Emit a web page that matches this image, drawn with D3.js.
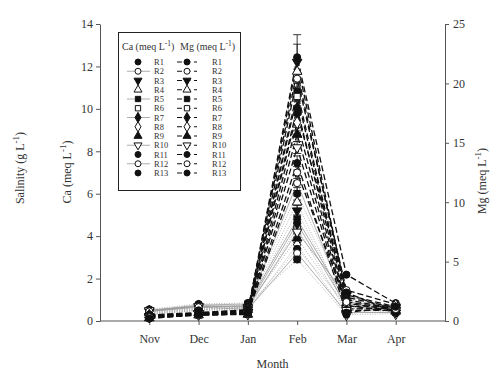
<!DOCTYPE html>
<html>
<head>
<meta charset="utf-8">
<script src="https://cdn.jsdelivr.net/npm/d3@7"></script>
<style>
  html, body { margin: 0; padding: 0; background: #fff; }
  svg { display: block; font-family: "Liberation Serif", "DejaVu Serif", serif; }
</style>
</head>
<body>
<svg id="chart" width="490" height="374"></svg>
<script>
// Months and sampling sites
const months = ["Nov", "Dec", "Jan", "Feb", "Mar", "Apr"];
const sites = ["R1","R2","R3","R4","R5","R6","R7","R8","R9","R10","R11","R12","R13"];

// Ca (meq L-1) per month, one value per site R1..R13
const caNov = [0.55,0.50,0.45,0.40,0.50,0.35,0.45,0.30,0.40,0.50,0.35,0.45,0.30];
const caDec = [0.80,0.70,0.65,0.60,0.75,0.55,0.70,0.50,0.60,0.70,0.55,0.65,0.50];
const caJan = [0.85,0.70,0.60,0.65,0.80,0.55,0.70,0.50,0.75,0.65,0.60,0.55,0.80];
const caFeb = [6.0,6.5,5.2,5.6,4.8,4.4,4.6,3.6,3.9,4.2,3.4,3.2,2.9];
const caMar = [1.0,0.8,0.6,0.5,0.9,0.4,0.7,0.3,0.6,1.2,0.8,0.4,0.3];
const caApr = [0.70,0.60,0.50,0.45,0.65,0.40,0.55,0.35,0.50,0.60,0.45,0.40,0.70];
const caErrFeb = [0.30,0.35,0.25,0.30,0.20,0.25,0.20,0.20,0.20,0.25,0.20,0.20,0.15];

// Mg (meq L-1) per month, one value per site R1..R13
const mgNov = [0.45,0.35,0.40,0.50,0.30,0.40,0.45,0.35,0.25,0.40,0.50,0.30,0.20];
const mgDec = [0.65,0.55,0.60,0.70,0.50,0.60,0.65,0.55,0.50,0.60,0.70,0.50,0.55];
const mgJan = [0.85,0.65,0.75,0.95,0.60,0.70,0.80,0.60,0.55,0.70,0.90,0.60,0.65];
const mgFeb = [22.2,20.4,21.8,21.0,19.3,18.9,17.9,16.7,15.7,14.6,17.5,12.5,13.3];
const mgMar = [3.9,2.6,2.2,2.0,1.8,1.5,1.3,1.2,1.0,0.9,2.4,1.6,0.7];
const mgApr = [1.5,1.4,1.2,1.1,1.0,0.9,0.8,1.3,1.1,0.9,0.7,1.0,1.2];
const mgErrFeb = [1.9,0.8,1.5,0.9,0.7,0.8,0.6,0.7,0.6,0.5,0.6,0.5,0.6];

// Tick values
const caTicks = [0, 2, 4, 6, 8, 10, 12, 14];
const mgTicks = [0, 5, 10, 15, 20, 25];

// Marker shapes per site (shape, filled)
const markerStyles = [
  ["circle", true], ["circle", false], ["triDown", true], ["triUp", false],
  ["square", true], ["square", false], ["diamond", true], ["diamond", false],
  ["triUp", true], ["triDown", false], ["circle", true], ["circle", false],
  ["circle", true]
];
// Ca line styles per site
const caLineSolid = [false,true,false,false,true,false,true,false,false,true,false,true,false];

const svg = d3.select("#chart");
const plotLeft = 100, plotRight = 445, plotTop = 24, plotBottom = 321;

const x = d3.scaleLinear().domain([0, 7]).range([plotLeft, plotRight]);
const yCa = d3.scaleLinear().domain([0, 14]).range([plotBottom, plotTop]);
const yMg = d3.scaleLinear().domain([0, 25]).range([plotBottom, plotTop]);

const caByMonth = [caNov, caDec, caJan, caFeb, caMar, caApr];
const mgByMonth = [mgNov, mgDec, mgJan, mgFeb, mgMar, mgApr];

const caSeries = sites.map((s, i) => caByMonth.map((arr, m) => ({ m: m + 1, v: arr[i] })));
const mgSeries = sites.map((s, i) => mgByMonth.map((arr, m) => ({ m: m + 1, v: arr[i] })));

function symbolPath(shape, size) {
  if (shape === "circle") return d3.symbol(d3.symbolCircle, size)();
  if (shape === "square") return d3.symbol(d3.symbolSquare, size)();
  if (shape === "diamond") return d3.symbol(d3.symbolDiamond, size * 1.1)();
  return d3.symbol(d3.symbolTriangle, size)();
}
function drawMarker(g, cx, cy, idx, size) {
  const [shape, filled] = markerStyles[idx];
  g.append("path")
    .attr("d", symbolPath(shape, size))
    .attr("transform", `translate(${cx},${cy})` + (shape === "triDown" ? " rotate(180)" : ""))
    .attr("fill", filled ? "#111" : "#fff")
    .attr("stroke", "#111")
    .attr("stroke-width", 1);
}

const textColor = "#333";
const axisColor = "#555";

// Axes
const axL = svg.append("g").attr("transform", `translate(${plotLeft},0)`)
  .call(d3.axisLeft(yCa).tickValues(caTicks).tickSize(4).tickSizeOuter(0).tickPadding(3));
const axR = svg.append("g").attr("transform", `translate(${plotRight},0)`)
  .call(d3.axisRight(yMg).tickValues(mgTicks).tickSize(4).tickSizeOuter(0).tickPadding(4));
const axB = svg.append("g").attr("transform", `translate(0,${plotBottom})`)
  .call(d3.axisBottom(x).tickValues([1,2,3,4,5,6]).tickFormat(d => months[d - 1])
    .tickSize(4).tickSizeOuter(0).tickPadding(9));
axB.select(".domain").attr("d", `M${plotLeft},0H${plotRight}`);
[axL, axR, axB].forEach(a => {
  a.selectAll(".domain, .tick line").attr("stroke", axisColor).attr("stroke-width", 1);
  a.selectAll("text").attr("fill", textColor).attr("font-size", 12)
    .attr("font-family", "Liberation Serif, serif");
});

// Lines
const lineCa = d3.line().x(d => x(d.m)).y(d => yCa(d.v));
const lineMg = d3.line().x(d => x(d.m)).y(d => yMg(d.v));

const plot = svg.append("g");
caSeries.forEach((s, i) => {
  plot.append("path").attr("d", lineCa(s)).attr("fill", "none")
    .attr("stroke", caLineSolid[i] ? "#999" : "#aaa")
    .attr("stroke-width", caLineSolid[i] ? 0.8 : 0.9)
    .attr("stroke-dasharray", caLineSolid[i] ? null : "1,1.5");
});
mgSeries.forEach((s, i) => {
  plot.append("path").attr("d", lineMg(s)).attr("fill", "none")
    .attr("stroke", "#111").attr("stroke-width", 1.3)
    .attr("stroke-dasharray", "6,3");
});

// Error bars at Feb
const eb = svg.append("g").attr("stroke", "#222").attr("stroke-width", 0.9);
function errBar(cx, yv, e, ys) {
  eb.append("line").attr("x1", cx).attr("x2", cx).attr("y1", ys(yv - e)).attr("y2", ys(yv + e));
  eb.append("line").attr("x1", cx - 4).attr("x2", cx + 4).attr("y1", ys(yv + e)).attr("y2", ys(yv + e));
  eb.append("line").attr("x1", cx - 4).attr("x2", cx + 4).attr("y1", ys(yv - e)).attr("y2", ys(yv - e));
}
caFeb.forEach((v, i) => errBar(x(4), v, caErrFeb[i], yCa));
mgFeb.forEach((v, i) => errBar(x(4), v, mgErrFeb[i], yMg));

// Markers
const mk = svg.append("g");
caSeries.forEach((s, i) => s.forEach(d => drawMarker(mk, x(d.m), yCa(d.v), i, 40)));
mgSeries.forEach((s, i) => s.forEach(d => drawMarker(mk, x(d.m), yMg(d.v), i, 40)));

// Axis titles
svg.append("text").attr("transform", `translate(${(plotLeft + plotRight) / 2},368)`)
  .attr("text-anchor", "middle").attr("font-size", 12).attr("fill", textColor).text("Month");

function rotTitle(cx, cy, main, unit) {
  const t = svg.append("text").attr("transform", `translate(${cx},${cy}) rotate(-90)`)
    .attr("text-anchor", "middle").attr("font-size", 12).attr("fill", textColor);
  t.append("tspan").text(main + " (" + unit + " L");
  t.append("tspan").attr("dy", -5).attr("font-size", 9).text("-1");
  t.append("tspan").attr("dy", 5).text(")");
}
rotTitle(24, 168, "Salinity", "g");
rotTitle(71, 172, "Ca", "meq");
rotTitle(486, 181, "Mg", "meq");

// Legend
const lg = svg.append("g");
lg.append("rect").attr("x", 118.5).attr("y", 32.5).attr("width", 122).attr("height", 158)
  .attr("fill", "#fff").attr("stroke", "#222").attr("stroke-width", 1);

function legendHead(x0, label) {
  const t = lg.append("text").attr("x", x0).attr("y", 50).attr("font-size", 10).attr("fill", textColor);
  t.append("tspan").text(label + " (meq L");
  t.append("tspan").attr("dy", -4).attr("font-size", 7.5).text("-1");
  t.append("tspan").attr("dy", 4).text(")");
}
legendHead(122, "Ca");
legendHead(180, "Mg");

sites.forEach((s, i) => {
  const cy = 62 + i * 9.25;
  if (caLineSolid[i]) {
    lg.append("line").attr("x1", 127).attr("x2", 150).attr("y1", cy).attr("y2", cy)
      .attr("stroke", "#999").attr("stroke-width", 0.8);
  }
  drawMarker(lg, 138, cy, i, 28);
  lg.append("text").attr("x", 154).attr("y", cy + 3).attr("font-size", 8.5)
    .attr("fill", textColor).text(s);
  lg.append("line").attr("x1", 177).attr("x2", 197).attr("y1", cy).attr("y2", cy)
    .attr("stroke", "#111").attr("stroke-width", 1.2).attr("stroke-dasharray", "5,3.5");
  drawMarker(lg, 187, cy, i, 28);
  lg.append("text").attr("x", 212).attr("y", cy + 3).attr("font-size", 8.5)
    .attr("fill", textColor).text(s);
});
</script>
</body>
</html>
